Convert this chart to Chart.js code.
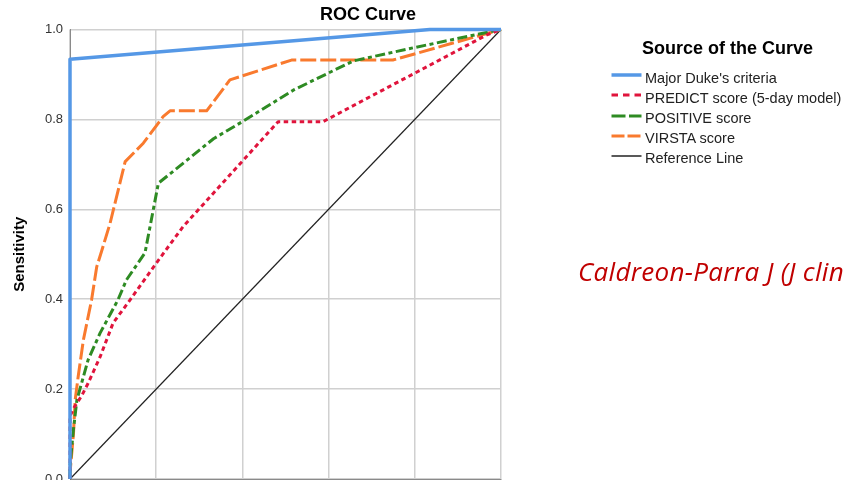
<!DOCTYPE html>
<html><head><meta charset="utf-8">
<script src="https://cdn.jsdelivr.net/npm/chart.js@4.4.1/dist/chart.umd.min.js"></script>
<style>
html,body{margin:0;padding:0;width:850px;height:480px;overflow:hidden;background:#fff;}
#wrap{position:relative;width:850px;height:480px;overflow:hidden;}
#c{position:absolute;left:0;top:0;}
.t{position:absolute;white-space:nowrap;font-family:"Liberation Sans",Arial,sans-serif;line-height:1;}
.ls{position:absolute;}
</style></head><body>
<div id="wrap">
<canvas id="c" width="850" height="560"></canvas>
<div class="t" style="left:268px;top:5px;width:200px;text-align:center;font-size:18px;font-weight:bold;color:#000;">ROC Curve</div>
<div class="t" style="left:642px;top:39px;font-size:18px;font-weight:bold;color:#000;">Source of the Curve</div>
<div id="legend"></div>
<div class="t" id="note" style="left:578px;top:257.5px;font-family:'Open Sans',sans-serif;font-style:italic;font-size:26px;letter-spacing:0.3px;color:#C00000;">Caldreon-Parra J (J clin</div>
</div>
<script>
// ---- data ----
const seriesNames = ["Major Duke's criteria", "PREDICT score (5-day model)", "POSITIVE score", "VIRSTA score", "Reference Line"];
const tickValues = [0, 0.2, 0.4, 0.6, 0.8, 1.0];
const dukeFpr  = [0, 0, 0.835, 1];
const dukeSens = [0, 0.934, 1, 1];
const predictFpr  = [0, 0, 0.01, 0.027, 0.042, 0.07, 0.1, 0.139, 0.2, 0.262, 0.483, 0.587, 0.804, 0.967, 1];
const predictSens = [0, 0.14, 0.16, 0.185, 0.213, 0.272, 0.347, 0.398, 0.48, 0.561, 0.795, 0.795, 0.905, 0.988, 1];
const positiveFpr  = [0, 0, 0.008, 0.016, 0.042, 0.07, 0.111, 0.131, 0.174, 0.205, 0.333, 0.40, 0.518, 0.657, 0.80, 1];
const positiveSens = [0, 0.03, 0.11, 0.176, 0.265, 0.325, 0.398, 0.443, 0.503, 0.658, 0.757, 0.795, 0.865, 0.93, 0.96, 1];
const virstaFpr  = [0, 0, 0.008, 0.012, 0.019, 0.031, 0.05, 0.062, 0.074, 0.093, 0.128, 0.17, 0.216, 0.232, 0.317, 0.371, 0.514, 0.749, 1];
const virstaSens = [0, 0.013, 0.10, 0.176, 0.228, 0.309, 0.398, 0.472, 0.509, 0.569, 0.706, 0.747, 0.806, 0.819, 0.819, 0.888, 0.932, 0.932, 1];
const refFpr  = [0, 1];
const refSens = [0, 1];

// ---- styles ----
const FONT = "'Liberation Sans', Arial, sans-serif";
const styles = [
  {color:'#5598E6', width:3.5, dash:[],          legendDash:'',       legendWidth:3.5},
  {color:'#E0143C', width:3,   dash:[4.5,3.5],   legendDash:'6.5 5',  legendWidth:3},
  {color:'#2E8B23', width:3,   dash:[10,3.5,4,3.5], legendDash:'14 3.5', legendWidth:3},
  {color:'#F97A2E', width:3,   dash:[16,4],      legendDash:'13 3',   legendWidth:3},
  {color:'#222222', width:1.2, dash:[],          legendDash:'',       legendWidth:1.5}
];
const xs = [dukeFpr, predictFpr, positiveFpr, virstaFpr, refFpr];
const ys = [dukeSens, predictSens, positiveSens, virstaSens, refSens];
const pts = (a, b) => a.map((v, i) => ({x: v, y: b[i]}));

const datasets = seriesNames.map((name, k) => ({
  label: name,
  data: pts(xs[k], ys[k]),
  borderColor: styles[k].color,
  backgroundColor: styles[k].color,
  borderWidth: styles[k].width,
  borderDash: styles[k].dash,
  borderJoinStyle: 'round',
  borderCapStyle: 'butt',
  pointRadius: 0,
  tension: 0,
  fill: false,
  clip: false,
  order: k
}));

const gridColor = '#d0d0d0';
new Chart(document.getElementById('c'), {
  type: 'line',
  data: { datasets },
  options: {
    responsive: false,
    animation: false,
    layout: { padding: { top: 29.5, right: 349, bottom: 0, left: 0 } },
    plugins: { legend: { display: false }, tooltip: { enabled: false }, title: { display: false } },
    scales: {
      x: {
        type: 'linear', min: 0, max: 1,
        ticks: { stepSize: 0.2, padding: 6, color: '#333', font: { family: FONT, size: 13 }, callback: v => Number(v).toFixed(1) },
        grid: { color: gridColor, lineWidth: 1.5, drawTicks: false },
        border: { color: '#8a8a8a', width: 1 },
        title: { display: true, text: '1 - Specificity', color: '#000', font: { family: FONT, size: 15, weight: 'bold' } },
        afterFit: s => { s.height = 81; }
      },
      y: {
        type: 'linear', min: 0, max: 1,
        afterBuildTicks: s => { s.ticks = tickValues.map(v => ({ value: v })); },
        ticks: { padding: 7, color: '#333', font: { family: FONT, size: 13 }, callback: v => Number(v).toFixed(1) },
        grid: { color: gridColor, lineWidth: 1.5, drawTicks: false },
        border: { color: '#8a8a8a', width: 1 },
        title: { display: true, text: 'Sensitivity', color: '#000', padding: { top: 11, bottom: 0 }, font: { family: FONT, size: 15, weight: 'bold', lineHeight: 1.2 } },
        afterFit: s => { s.width = 70; }
      }
    }
  }
});

// ---- legend (built from the dataset config) ----
const leg = document.getElementById('legend');
const NS = 'http://www.w3.org/2000/svg';
seriesNames.forEach((name, i) => {
  const ly = 75 + 20.25 * i;
  const svg = document.createElementNS(NS, 'svg');
  svg.setAttribute('width', '31'); svg.setAttribute('height', '8');
  svg.setAttribute('class', 'ls');
  svg.style.left = '611px'; svg.style.top = (ly - 4) + 'px';
  const ln = document.createElementNS(NS, 'line');
  ln.setAttribute('x1', '0.5'); ln.setAttribute('x2', '30.5');
  ln.setAttribute('y1', '4'); ln.setAttribute('y2', '4');
  ln.setAttribute('stroke', styles[i].color);
  ln.setAttribute('stroke-width', styles[i].legendWidth);
  if (styles[i].legendDash) ln.setAttribute('stroke-dasharray', styles[i].legendDash);
  svg.appendChild(ln);
  leg.appendChild(svg);
  const d = document.createElement('div');
  d.className = 't';
  d.style.left = '645px'; d.style.top = (70.5 + 20.1 * i) + 'px';
  d.style.fontSize = '14.5px'; d.style.color = '#222';
  d.textContent = name;
  leg.appendChild(d);
});
</script>
</body></html>
